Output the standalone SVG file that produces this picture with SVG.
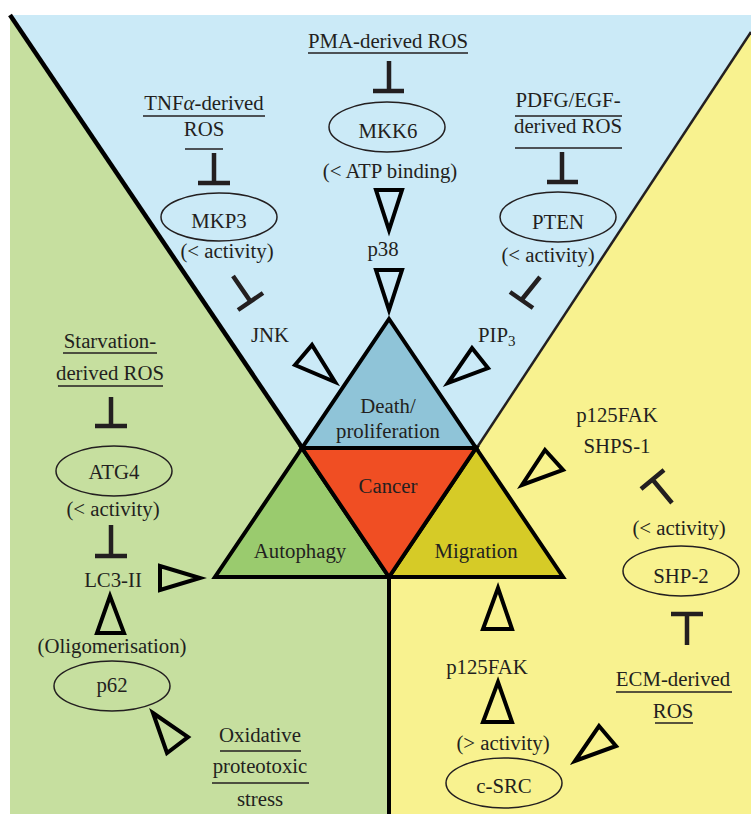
<svg xmlns="http://www.w3.org/2000/svg" width="751" height="814" viewBox="0 0 751 814">
<style>
text{font-family:"Liberation Serif","Times New Roman",serif;font-size:20.8px;fill:#231f20;text-anchor:middle}
.ul{stroke:#231f20;stroke-width:1.6;fill:none}
.ell{fill:none;stroke:#231f20;stroke-width:1.5}
.inh{stroke:#231f20;stroke-width:4.5;fill:none;stroke-linecap:butt}
.act{fill:none;stroke:#000;stroke-width:4;stroke-linejoin:miter}
.tri{stroke:#000;stroke-width:4;stroke-linejoin:miter}
</style>
<rect x="0" y="0" width="751" height="814" fill="#ffffff"/>
<g id="background">
<rect x="10" y="15" width="741" height="799" fill="#cbeaf7"/>
<polygon points="10,15 303,449 389,577 389,814 10,814" fill="#c6df9f"/>
<polygon points="751,32 476,449 389,577 389,814 751,814" fill="#f8f28f"/>
<line x1="10" y1="15" x2="303" y2="449" stroke="#000" stroke-width="4.5"/>
<line x1="751" y1="32" x2="476" y2="449" stroke="#231f20" stroke-width="2.5"/>
<line x1="389" y1="577" x2="389" y2="814" stroke="#000" stroke-width="4"/>
</g>
<g id="death">
<polygon class="tri" points="389,319 302,448 476,448" fill="#8fc4d8"/>
<text x="388" y="413">Death/</text>
<text x="388" y="438">proliferation</text>
</g>
<g id="autophagy">
<polygon class="tri" points="302,448 215,577 389,577" fill="#9acb6e"/>
<text x="300" y="558">Autophagy</text>
</g>
<g id="migration">
<polygon class="tri" points="476,448 389,577 563,577" fill="#d6cb27"/>
<text x="476" y="558">Migration</text>
</g>
<g id="cancer">
<polygon class="tri" points="302,448 476,448 389,577" fill="#f04e23"/>
<text x="388" y="493">Cancer</text>
</g>
<g id="pma-ros">
<text x="388" y="48">PMA-derived ROS</text>
<line class="ul" x1="308" y1="53" x2="468" y2="53"/>
</g>
<g id="mkk6">
<ellipse class="ell" cx="387" cy="127" rx="58" ry="25"/>
<text x="388" y="138">MKK6</text>
<text x="390" y="178">(&lt; ATP binding)</text>
</g>
<g id="p38"><text x="383" y="256">p38</text></g>
<g id="tnf-ros">
<text x="204" y="110">TNF<tspan font-style="italic">α</tspan>-derived</text>
<line class="ul" x1="143" y1="116" x2="265" y2="116"/>
<text x="204" y="136">ROS</text>
<line class="ul" x1="185" y1="149" x2="223" y2="149"/>
</g>
<g id="mkp3">
<ellipse class="ell" cx="219" cy="217" rx="58" ry="24"/>
<text x="219" y="228">MKP3</text>
<text x="227" y="258">(&lt; activity)</text>
</g>
<g id="jnk"><text x="270" y="342">JNK</text></g>
<g id="pdgf-ros">
<text x="568" y="107">PDFG/EGF-</text>
<line class="ul" x1="515" y1="116" x2="622" y2="116"/>
<text x="568" y="133">derived ROS</text>
<line class="ul" x1="515" y1="148" x2="622" y2="148"/>
</g>
<g id="pten">
<ellipse class="ell" cx="558" cy="217" rx="58" ry="25"/>
<text x="558" y="229">PTEN</text>
<text x="548" y="262">(&lt; activity)</text>
</g>
<g id="pip3"><text x="478" y="342" style="text-anchor:start">PIP<tspan font-size="15" dy="4">3</tspan></text></g>
<g id="starvation-ros">
<text x="110" y="348">Starvation-</text>
<line class="ul" x1="63" y1="353" x2="157" y2="353"/>
<text x="110" y="380">derived ROS</text>
<line class="ul" x1="58" y1="386" x2="163" y2="386"/>
</g>
<g id="atg4">
<ellipse class="ell" cx="114" cy="471" rx="58" ry="25"/>
<text x="114" y="479">ATG4</text>
<text x="113" y="516">(&lt; activity)</text>
</g>
<g id="lc3"><text x="113" y="587">LC3-II</text></g>
<g id="p62">
<text x="112" y="653">(Oligomerisation)</text>
<ellipse class="ell" cx="112" cy="686" rx="58" ry="25"/>
<text x="112" y="692">p62</text>
</g>
<g id="oxidative-stress">
<text x="260" y="742">Oxidative</text>
<line class="ul" x1="220" y1="751" x2="301" y2="751"/>
<text x="260" y="773">proteotoxic</text>
<line class="ul" x1="212" y1="783" x2="309" y2="783"/>
<text x="260" y="806">stress</text>
</g>
<g id="fak-shps">
<text x="617" y="422">p125FAK</text>
<text x="617" y="453">SHPS-1</text>
</g>
<g id="shp2">
<text x="679" y="535">(&lt; activity)</text>
<ellipse class="ell" cx="681" cy="571" rx="58" ry="25"/>
<text x="681" y="583">SHP-2</text>
</g>
<g id="ecm-ros">
<text x="673" y="686">ECM-derived</text>
<line class="ul" x1="616" y1="692" x2="732" y2="692"/>
<text x="673" y="718">ROS</text>
<line class="ul" x1="655" y1="723" x2="693" y2="723"/>
</g>
<g id="p125fak"><text x="487" y="674">p125FAK</text></g>
<g id="csrc">
<text x="503" y="750">(&gt; activity)</text>
<ellipse class="ell" cx="504" cy="783" rx="58" ry="25"/>
<text x="504" y="793">c-SRC</text>
</g>
<g id="connectors">
<path class="inh" d="M389,61 V91 M373,91 H404"/>
<path class="inh" d="M214,153 V183 M198,183 H230"/>
<path class="inh" d="M562,152 V182 M547,182 H578"/>
<path class="inh" d="M111,397 V426 M95,426 H127"/>
<path class="inh" d="M111,525 V556 M95,556 H127"/>
<path class="inh" d="M687,645 V614 M671,614 H703"/>
<path class="inh" d="M233,276 L250.5,301.5 M238,310 L263,293"/>
<path class="inh" d="M540,277 L521.5,300 M510,292 L533,308"/>
<path class="inh" d="M672,503 L652.5,479.5 M641,489 L664,470"/>
<polygon class="act" points="376,190 402,190 389,230"/>
<polygon class="act" points="376,270 402,270 389,310"/>
<polygon class="act" points="295,365 312,345 335,382"/>
<polygon class="act" points="472,348 488,368 448,383"/>
<polygon class="act" points="160,566 160,590 200,578"/>
<polygon class="act" points="97,633 124,633 110,596"/>
<polygon class="act" points="153,713 188,737 167,753"/>
<polygon class="act" points="545,450 563,470 522,485"/>
<polygon class="act" points="483,629 512,629 498,588"/>
<polygon class="act" points="483,722 512,722 498,682"/>
<polygon class="act" points="599,726 616,746 575,761"/>
</g>
</svg>
